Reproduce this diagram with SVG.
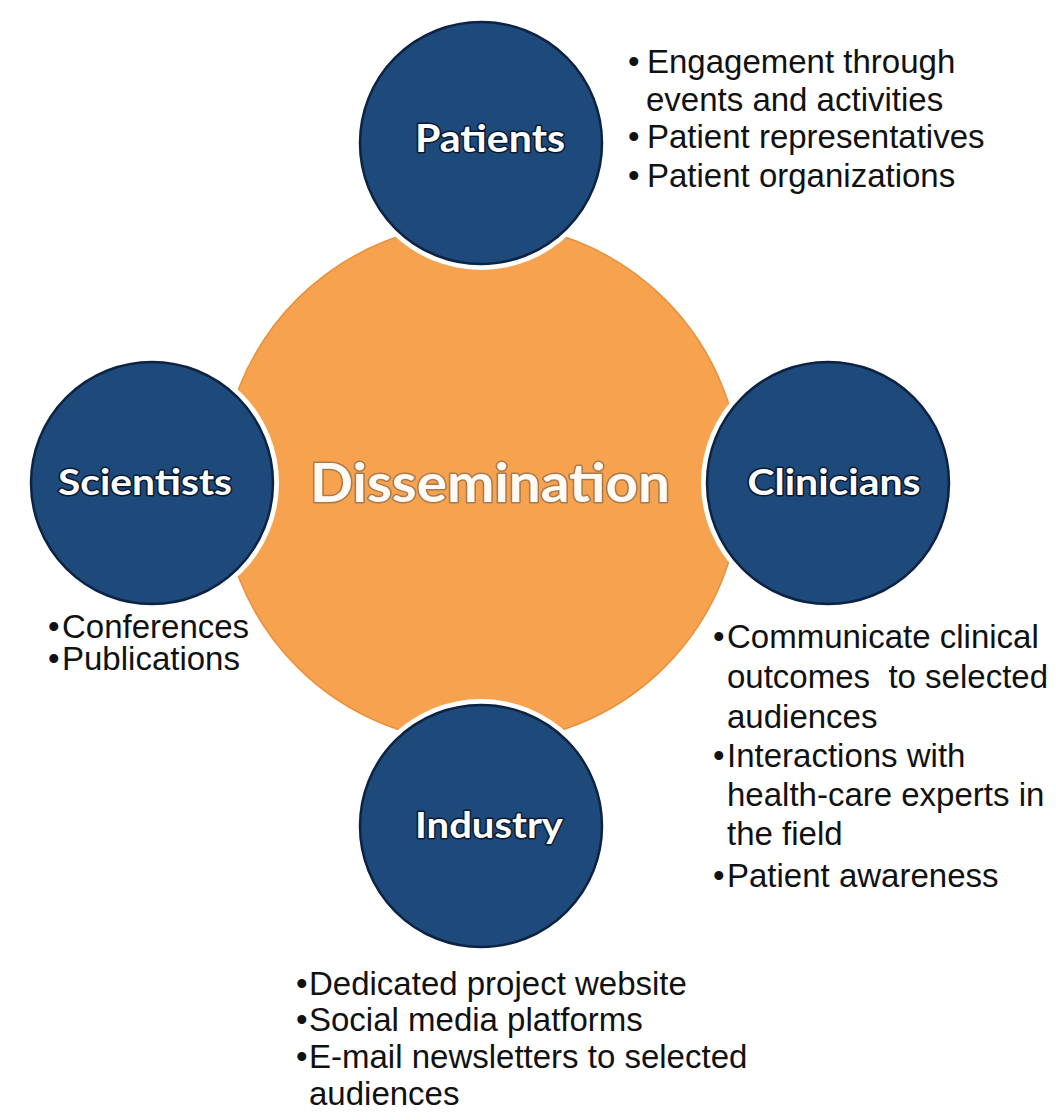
<svg xmlns="http://www.w3.org/2000/svg" width="1056" height="1120" viewBox="0 0 1056 1120">
<style>
.bg{fill:#ffffff}
.hub{fill:#f6a24f;stroke:#e8913d;stroke-width:1.5}
.ring{fill:#ffffff}
.node{fill:#1d4a7b;stroke:#0c2343;stroke-width:2.5}
.lbl{font-family:Lato,"Open Sans","DejaVu Sans",sans-serif;font-weight:bold;fill:#ffffff;stroke:#0a1a30;stroke-width:3;paint-order:stroke;stroke-linejoin:round;text-anchor:middle}
.hubl{font-family:Lato,"Open Sans","DejaVu Sans",sans-serif;font-weight:bold;fill:#fffaf4;stroke:#8a6a4a;stroke-width:3;stroke-opacity:0.7;paint-order:stroke;stroke-linejoin:round;text-anchor:middle}
.b{font-family:"Liberation Sans",Arial,sans-serif;font-size:33px;fill:#111111;white-space:pre}
</style>
<rect class="bg" x="0" y="0" width="1056" height="1120"/>
<g id="connectors"></g>
<g id="dissemination">
<circle class="hub" cx="481" cy="483" r="260"/>
<text class="hubl" x="490" y="502" font-size="53" textLength="360" lengthAdjust="spacingAndGlyphs">Dissemination</text>
</g>
<g id="patients">
<circle class="ring" cx="481" cy="143" r="127"/>
<circle class="node" cx="481" cy="143" r="121"/>
<text class="lbl" x="490" y="152" font-size="38" textLength="150" lengthAdjust="spacingAndGlyphs">Patients</text>
</g>
<g id="scientists">
<circle class="ring" cx="152" cy="483" r="127"/>
<circle class="node" cx="152" cy="483" r="121"/>
<text class="lbl" x="145" y="495" font-size="37" textLength="174" lengthAdjust="spacingAndGlyphs">Scientists</text>
</g>
<g id="clinicians">
<circle class="ring" cx="828" cy="483" r="127"/>
<circle class="node" cx="828" cy="483" r="121"/>
<text class="lbl" x="834" y="495" font-size="37" textLength="173" lengthAdjust="spacingAndGlyphs">Clinicians</text>
</g>
<g id="industry">
<circle class="ring" cx="481" cy="826" r="127"/>
<circle class="node" cx="481" cy="826" r="121"/>
<text class="lbl" x="489" y="838" font-size="37" textLength="148" lengthAdjust="spacingAndGlyphs">Industry</text>
</g>
<g id="patients-notes">
<text class="b" x="628" y="73">•</text><text class="b" x="647" y="73">Engagement through</text>
<text class="b" x="646" y="111">events and activities</text>
<text class="b" x="628" y="148">•</text><text class="b" x="647" y="148">Patient representatives</text>
<text class="b" x="628" y="187">•</text><text class="b" x="647" y="187">Patient organizations</text>
</g>
<g id="scientists-notes">
<text class="b" x="48" y="638">•</text><text class="b" x="62" y="638">Conferences</text>
<text class="b" x="48" y="670">•</text><text class="b" x="62" y="670">Publications</text>
</g>
<g id="clinicians-notes">
<text class="b" x="713" y="648">•</text><text class="b" x="727" y="648">Communicate clinical</text>
<text class="b" x="727" y="688">outcomes  to selected</text>
<text class="b" x="727" y="728">audiences</text>
<text class="b" x="713" y="767">•</text><text class="b" x="727" y="767">Interactions with</text>
<text class="b" x="727" y="806">health-care experts in</text>
<text class="b" x="727" y="845">the field</text>
<text class="b" x="713" y="887">•</text><text class="b" x="727" y="887">Patient awareness</text>
</g>
<g id="industry-notes">
<text class="b" x="296" y="995">•</text><text class="b" x="309" y="995">Dedicated project website</text>
<text class="b" x="296" y="1031">•</text><text class="b" x="309" y="1031">Social media platforms</text>
<text class="b" x="296" y="1068">•</text><text class="b" x="309" y="1068">E-mail newsletters to selected</text>
<text class="b" x="309" y="1105">audiences</text>
</g>
</svg>
